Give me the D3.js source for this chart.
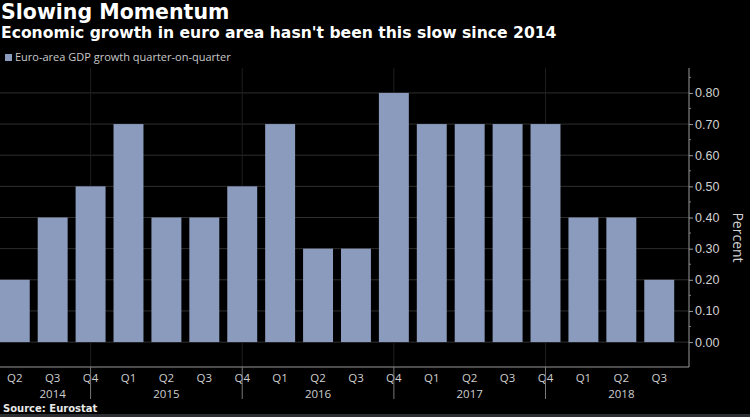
<!DOCTYPE html>
<html>
<head>
<meta charset="utf-8">
<script src="https://cdn.jsdelivr.net/npm/d3@7"></script>
<style>
  body { margin: 0; background: #000; }
  svg { display: block; font-family: "Open Sans", "DejaVu Sans", sans-serif; }
  .head { font-family: "DejaVu Sans", sans-serif; font-weight: bold; }
</style>
</head>
<body>
<svg id="chart" width="750" height="417"></svg>
<script>
// data
const quarters = ["Q2","Q3","Q4","Q1","Q2","Q3","Q4","Q1","Q2","Q3","Q4","Q1","Q2","Q3","Q4","Q1","Q2","Q3"];
const years = ["2014","2014","2014","2015","2015","2015","2015","2016","2016","2016","2016","2017","2017","2017","2017","2018","2018","2018"];
const growth = [0.2,0.4,0.5,0.7,0.4,0.4,0.5,0.7,0.3,0.3,0.8,0.7,0.7,0.7,0.7,0.4,0.4,0.2];
const yTicks = [0,0.1,0.2,0.3,0.4,0.5,0.6,0.7,0.8];
// year label sits under this quarter index
const yearLabels = [{year:"2014", at:1},{year:"2015", at:4},{year:"2016", at:8},{year:"2017", at:12},{year:"2018", at:16}];

const svg = d3.select("#chart");
const W = 750, H = 417;
const plotLeft = 0, plotRight = 689, plotTop = 68, plotBottom = 367;

svg.append("rect").attr("width", W).attr("height", H).attr("fill", "#000");
// bottom strip
svg.append("rect").attr("x", 0).attr("y", 414).attr("width", W).attr("height", 3).attr("fill", "#2b2e33");

const keys = d3.range(growth.length);
const x = d3.scaleBand().domain(keys).range([-4, 678]).paddingInner(0.21).paddingOuter(0.1);
const y = d3.scaleLinear().domain([-0.08, 0.88]).range([plotBottom, plotTop]);

// horizontal grid
svg.append("g").selectAll("line").data(yTicks).join("line")
  .attr("x1", plotLeft).attr("x2", plotRight)
  .attr("y1", d => y(d)).attr("y2", d => y(d))
  .attr("stroke", "#2e2e2e").attr("stroke-width", 1);

// vertical grid at Q4
const q4 = keys.filter(i => quarters[i] === "Q4");
svg.append("g").selectAll("line").data(q4).join("line")
  .attr("x1", d => x(d) + x.bandwidth() / 2).attr("x2", d => x(d) + x.bandwidth() / 2)
  .attr("y1", plotTop).attr("y2", plotBottom)
  .attr("stroke", "#1e1e1e");

// bars
svg.append("g").selectAll("rect").data(keys).join("rect")
  .attr("x", d => x(d))
  .attr("width", x.bandwidth())
  .attr("y", d => y(growth[d]))
  .attr("height", d => y(0) - y(growth[d]))
  .attr("fill", "#8b9bbd");

// right axis
const yAxis = d3.axisRight(y).tickValues(yTicks).tickFormat(d3.format(".2f")).tickSize(4).tickPadding(2);
const ya = svg.append("g").attr("transform", `translate(${plotRight},0)`).call(yAxis);
ya.select(".domain").remove();
ya.selectAll("line").attr("stroke", "#999");
ya.selectAll("text").attr("fill", "#d0d0d0").attr("font-size", 12.5);
// minor ticks
svg.append("g").selectAll("line").data(yTicks.map(d => d + 0.05)).join("line")
  .attr("x1", plotRight).attr("x2", plotRight + 2)
  .attr("y1", d => y(d)).attr("y2", d => y(d)).attr("stroke", "#777");
svg.append("line").attr("x1", plotRight).attr("x2", plotRight)
  .attr("y1", plotTop).attr("y2", plotBottom).attr("stroke", "#999");
// bottom border
svg.append("line").attr("x1", plotLeft).attr("x2", plotRight)
  .attr("y1", plotBottom).attr("y2", plotBottom).attr("stroke", "#999");

// axis title
svg.append("text").attr("transform", `translate(733,${(plotTop + plotBottom) / 2 + 20}) rotate(90)`)
  .attr("text-anchor", "middle").attr("fill", "#d0d0d0").attr("font-size", 14).text("Percent");

// x labels
const xa = svg.append("g");
xa.selectAll("text.q").data(keys).join("text").attr("class", "q")
  .attr("x", d => x(d) + x.bandwidth() / 2).attr("y", 382)
  .attr("text-anchor", "middle").attr("fill", "#cfcfcf").attr("font-size", 11.5)
  .text(d => quarters[d]);
xa.selectAll("text.y").data(yearLabels).join("text").attr("class", "y")
  .attr("x", d => x(d.at) + x.bandwidth() / 2).attr("y", 398)
  .attr("text-anchor", "middle").attr("fill", "#cfcfcf").attr("font-size", 11.5)
  .text(d => d.year);
xa.selectAll("line").data(q4).join("line")
  .attr("x1", d => x(d) + x.bandwidth() / 2).attr("x2", d => x(d) + x.bandwidth() / 2)
  .attr("y1", plotBottom).attr("y2", 399).attr("stroke", "#777");

// titles
svg.append("text").attr("class", "head").attr("x", 1).attr("y", 19).attr("fill", "#fff")
  .attr("font-size", 20.5).text("Slowing Momentum");
svg.append("text").attr("class", "head").attr("x", 1).attr("y", 38).attr("fill", "#fff")
  .attr("font-size", 15.6)
  .text("Economic growth in euro area hasn't been this slow since 2014");

// legend
svg.append("rect").attr("x", 5).attr("y", 54).attr("width", 7).attr("height", 7).attr("fill", "#8b9bbd");
svg.append("text").attr("x", 15).attr("y", 61).attr("fill", "#c8c8c8").attr("font-size", 11)
  .text("Euro-area GDP growth quarter-on-quarter");

// source
svg.append("text").attr("class", "head").attr("x", 3).attr("y", 412).attr("fill", "#e8e8e8")
  .attr("font-size", 10).text("Source: Eurostat");
</script>
</body>
</html>
